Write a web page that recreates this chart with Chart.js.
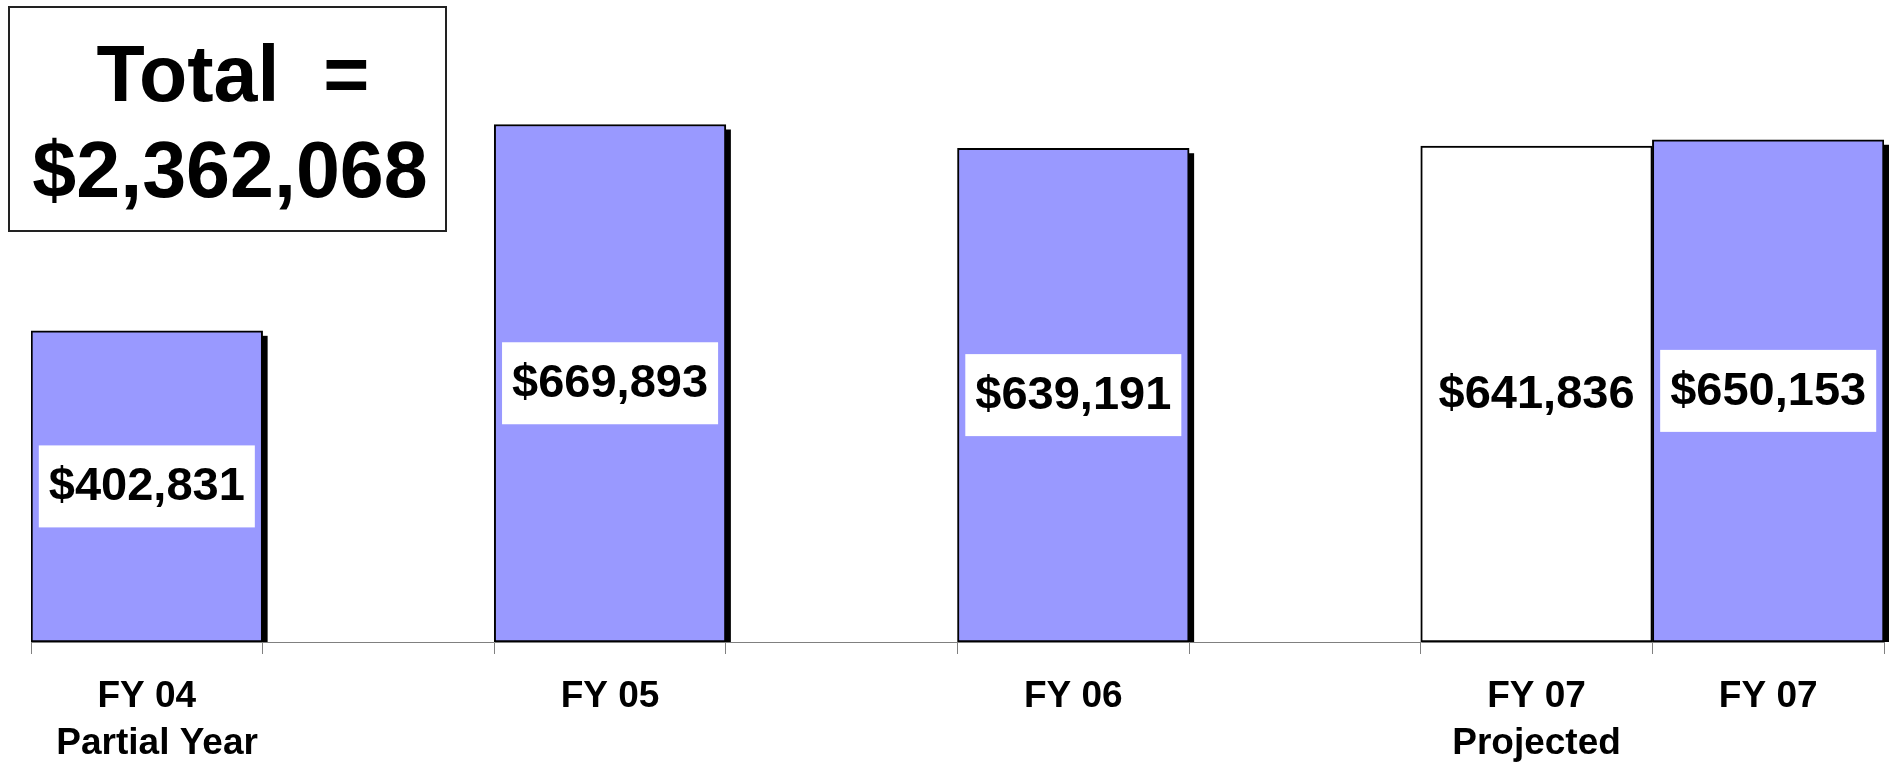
<!DOCTYPE html>
<html>
<head>
<meta charset="utf-8">
<script src="https://cdn.jsdelivr.net/npm/chart.js@4.4.1/dist/chart.umd.min.js"></script>
<style>
  html, body { margin: 0; padding: 0; background: #fff; }
  #wrap { width: 1891px; height: 763px; position: relative; }
</style>
</head>
<body>
<div id="wrap"><canvas id="fyChart"></canvas></div>
<script>
// categorias (slots vazios = espaço entre os anos)
const categories = [['FY 04', '  Partial Year'], '', 'FY 05', '', 'FY 06', '', ['FY 07', 'Projected'], 'FY 07'];
const amounts = [402831, null, 669893, null, 639191, null, 641836, 650153];
const projected = [false, false, false, false, false, false, true, false];
const barColors = ['#9999FF', '#9999FF', '#9999FF', '#9999FF', '#9999FF', '#9999FF', '#FFFFFF', '#9999FF'];

const FONT = '"Liberation Sans", Arial, sans-serif';
const money = v => '$' + v.toLocaleString('en-US');

// total = soma sem o projetado
const total = amounts.reduce((acc, v, i) => acc + (v != null && !projected[i] ? v : 0), 0);

// sombra preta à direita das barras
const shadowPlugin = {
  id: 'shadow',
  beforeDatasetsDraw(chart) {
    const ctx = chart.ctx;
    const meta = chart.getDatasetMeta(0);
    ctx.save();
    ctx.fillStyle = '#000';
    meta.data.forEach((bar, i) => {
      if (amounts[i] == null || projected[i]) return;
      const right = bar.x + bar.width / 2;
      ctx.fillRect(right - 1, bar.y + 5, 6, bar.base - bar.y - 5);
    });
    ctx.restore();
  }
};

// rótulos dos valores em caixa branca
const valueLabels = {
  id: 'valueLabels',
  afterDatasetsDraw(chart) {
    const ctx = chart.ctx;
    const meta = chart.getDatasetMeta(0);
    ctx.save();
    ctx.font = 'bold 47px ' + FONT;
    ctx.textAlign = 'center';
    ctx.textBaseline = 'middle';
    meta.data.forEach((bar, i) => {
      if (amounts[i] == null) return;
      const txt = money(amounts[i]);
      const cy = (bar.y + bar.base) / 2;
      const w = ctx.measureText(txt).width + 20;
      ctx.fillStyle = '#fff';
      ctx.fillRect(bar.x - w / 2, cy - 41, w, 82);
      ctx.fillStyle = '#000';
      ctx.fillText(txt, bar.x, cy + 1);
    });
    ctx.restore();
  }
};

// caixa do total no canto
const totalBox = {
  id: 'totalBox',
  afterDraw(chart) {
    const ctx = chart.ctx;
    ctx.save();
    ctx.fillStyle = '#fff';
    ctx.fillRect(9, 7, 437, 224);
    ctx.strokeStyle = '#222';
    ctx.lineWidth = 2;
    ctx.strokeRect(9, 7, 437, 224);
    ctx.fillStyle = '#000';
    ctx.font = 'bold 79px ' + FONT;
    ctx.textAlign = 'center';
    ctx.textBaseline = 'alphabetic';
    ctx.fillText('Total  =', 233, 101);
    ctx.fillText(money(total), 230, 197);
    ctx.restore();
  }
};

new Chart(document.getElementById('fyChart'), {
  type: 'bar',
  data: {
    labels: categories,
    datasets: [{
      data: amounts,
      backgroundColor: barColors,
      borderColor: '#000',
      borderWidth: 2,
      borderSkipped: false,
      categoryPercentage: 1.0,
      barPercentage: 1.0
    }]
  },
  options: {
    responsive: true,
    maintainAspectRatio: false,
    animation: false,
    layout: { padding: { top: 24, left: 31, right: 7, bottom: 0 } },
    plugins: {
      legend: { display: false },
      tooltip: { enabled: false }
    },
    scales: {
      x: {
        offset: true,
        afterFit: scale => { scale.height = 121; },
        grid: {
          offset: true,
          drawOnChartArea: false,
          drawTicks: true,
          tickLength: 12,
          color: '#808080',
          lineWidth: 1
        },
        border: { display: true, color: '#808080', width: 1 },
        ticks: {
          color: '#000',
          autoSkip: false,
          maxRotation: 0,
          padding: 20,
          font: { family: FONT, size: 37, weight: 'bold', lineHeight: 1.25 }
        }
      },
      y: {
        display: false,
        min: 0,
        max: 800000
      }
    }
  },
  plugins: [shadowPlugin, valueLabels, totalBox]
});
</script>
</body>
</html>
